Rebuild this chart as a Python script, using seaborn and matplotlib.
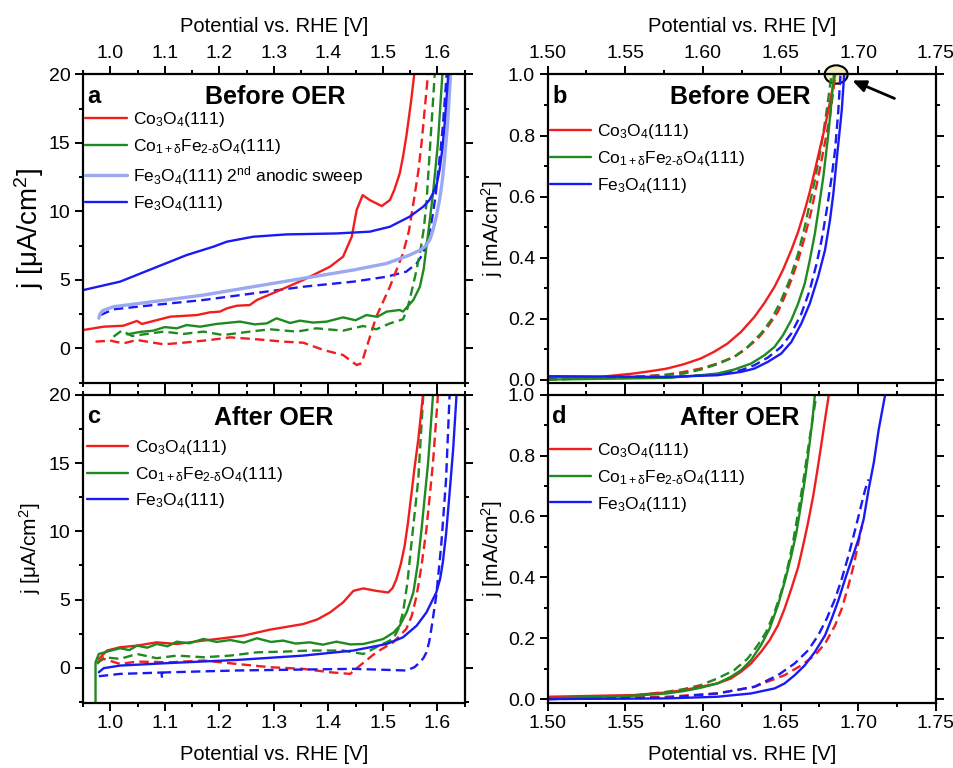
import matplotlib
matplotlib.use("Agg")
import matplotlib.pyplot as plt
from matplotlib.patches import Ellipse
from matplotlib.ticker import MultipleLocator, FormatStrFormatter
import seaborn as sns

# ---- panel a: before OER, low current region (uA/cm2) ----
a_co_x = [0.951, 0.988, 1.024, 1.049, 1.058, 1.110, 1.159, 1.183, 1.201, 1.214, 1.232, 1.256, 1.269,
          1.305, 1.354, 1.403, 1.427, 1.443, 1.452, 1.463, 1.476, 1.498, 1.513, 1.521, 1.531, 1.537,
          1.543, 1.548, 1.552, 1.559]
a_co_y = [1.34, 1.58, 1.65, 2.00, 1.78, 2.31, 2.43, 2.63, 2.68, 2.92, 3.11, 3.16, 3.53,
          4.14, 4.99, 5.96, 6.69, 8.15, 10.1, 11.19, 10.83, 10.39, 10.83, 11.56, 12.77, 13.99,
          15.45, 16.91, 18.1, 20.5]
a_co_dash_x = [0.973, 1.000, 1.024, 1.049, 1.098, 1.134, 1.183, 1.220, 1.269, 1.317, 1.354, 1.391,
               1.427, 1.452, 1.461, 1.488, 1.513, 1.537, 1.548, 1.556, 1.565, 1.571, 1.584]
a_co_dash_y = [0.49, 0.56, 0.36, 0.61, 0.29, 0.41, 0.61, 0.80, 0.66, 0.49, 0.41, -0.12,
               -0.49, -1.22, -1.09, 2.31, 4.50, 6.93, 8.6, 10.58, 12.9, 14.96, 20.5]
a_cofe_x = [1.031, 1.055, 1.079, 1.100, 1.122, 1.140, 1.165, 1.195, 1.238, 1.265, 1.287, 1.305, 1.330,
            1.348, 1.372, 1.397, 1.427, 1.450, 1.470, 1.490, 1.507, 1.531, 1.537, 1.556, 1.568, 1.575,
            1.580, 1.586, 1.592, 1.601, 1.610]
a_cofe_y = [1.02, 1.20, 1.29, 1.55, 1.46, 1.70, 1.58, 1.78, 1.95, 1.75, 1.82, 2.19, 1.85,
            2.02, 1.88, 1.95, 2.26, 2.05, 2.43, 2.30, 2.68, 2.80, 2.68, 3.53, 4.50, 5.8,
            7.42, 9.3, 11.3, 14.96, 20.5]
a_cofe_dash_x = [1.006, 1.021, 1.040, 1.067, 1.098, 1.134, 1.171, 1.207, 1.256, 1.293, 1.342, 1.378,
                 1.427, 1.464, 1.488, 1.513, 1.537, 1.545, 1.552, 1.560, 1.568, 1.575, 1.580, 1.589,
                 1.596]
a_cofe_dash_y = [0.85, 1.29, 0.90, 1.05, 1.22, 1.05, 1.22, 0.97, 1.22, 1.39, 1.22, 1.46,
                 1.29, 1.63, 1.39, 1.82, 2.12, 2.9, 4.01, 5.4, 6.93, 8.7, 10.58, 16.18, 20.5]
a_fe2_x = [0.979, 0.981, 0.986, 1.006, 1.079, 1.171, 1.262, 1.354, 1.446, 1.507, 1.549, 1.570,
           1.580, 1.587, 1.592, 1.598, 1.604, 1.609, 1.613, 1.619, 1.625]
a_fe2_y = [2.2, 2.5, 2.75, 3.04, 3.41, 3.89, 4.50, 5.11, 5.72, 6.20, 6.81, 7.2,
           7.54, 8.0, 8.64, 9.6, 10.83, 12.2, 13.75, 16.5, 20.5]
a_fe_x = [0.951, 1.018, 1.079, 1.140, 1.189, 1.214, 1.262, 1.323, 1.415, 1.476, 1.513, 1.549,
          1.574, 1.585, 1.592, 1.599, 1.604, 1.609, 1.613, 1.621]
a_fe_y = [4.26, 4.87, 5.84, 6.81, 7.42, 7.79, 8.15, 8.32, 8.39, 8.52, 8.88, 9.61,
          10.34, 10.8, 11.31, 12.0, 13.0, 14.5, 16.2, 20.5]
a_fe_dash_x = [0.982, 1.006, 1.079, 1.171, 1.262, 1.354, 1.446, 1.507, 1.543, 1.562, 1.572, 1.580,
               1.587, 1.592, 1.597, 1.601, 1.606, 1.610, 1.618]
a_fe_dash_y = [2.43, 2.85, 3.16, 3.53, 4.01, 4.50, 4.87, 5.23, 5.60, 6.20, 6.8, 7.66,
               8.7, 9.85, 11.2, 12.77, 14.5, 16.2, 20.5]

# ---- panel c: after OER, low current region (uA/cm2) ----
c_co_x = [0.979, 0.994, 1.018, 1.049, 1.085, 1.122, 1.171, 1.207, 1.244, 1.293, 1.354, 1.380, 1.403,
          1.427, 1.446, 1.464, 1.488, 1.510, 1.518, 1.525, 1.533, 1.540, 1.546, 1.552, 1.558, 1.565,
          1.575]
c_co_y = [0.66, 1.27, 1.51, 1.63, 1.87, 1.75, 2.00, 2.17, 2.36, 2.80, 3.21, 3.55, 4.06,
          4.79, 5.64, 5.82, 5.64, 5.52, 5.85, 6.50, 7.6, 8.93, 10.6, 12.58, 14.6, 16.7,
          20.5]
c_co_dash_x = [0.976, 0.988, 1.018, 1.049, 1.110, 1.171, 1.232, 1.293, 1.354, 1.403, 1.440, 1.458,
               1.488, 1.519, 1.543, 1.553, 1.562, 1.571, 1.580, 1.592, 1.602]
c_co_dash_y = [0.41, 0.66, 0.29, 0.46, 0.41, 0.54, 0.29, 0.05, -0.07, -0.32, -0.44, 0.17,
               1.14, 1.87, 2.85, 3.8, 5.28, 7.5, 10.15, 15.0, 20.5]
c_cofe_x = [0.973, 0.973, 0.979, 0.994, 1.018, 1.035, 1.049, 1.068, 1.085, 1.105, 1.122, 1.145, 1.171,
            1.195, 1.220, 1.245, 1.269, 1.295, 1.317, 1.340, 1.366, 1.390, 1.415, 1.440, 1.464, 1.485,
            1.501, 1.520, 1.531, 1.544, 1.556, 1.564, 1.571, 1.583, 1.593]
c_cofe_y = [-2.6, 0.41, 1.02, 1.19, 1.44, 1.30, 1.63, 1.48, 1.75, 1.58, 1.92, 1.80, 2.12,
            1.90, 2.04, 1.85, 2.17, 1.90, 2.00, 1.78, 1.87, 1.70, 1.92, 1.72, 1.75, 1.95,
            2.12, 2.6, 3.09, 4.1, 5.52, 7.6, 10.15, 15.0, 20.5]
c_cofe_dash_x = [0.976, 0.988, 1.018, 1.049, 1.085, 1.122, 1.171, 1.220, 1.269, 1.317, 1.366, 1.427,
                 1.464, 1.494, 1.519, 1.529, 1.537, 1.545, 1.552, 1.565, 1.575]
c_cofe_dash_y = [0.29, 0.78, 0.66, 1.02, 0.71, 0.90, 0.78, 0.90, 1.14, 1.19, 1.27, 1.27,
                 1.02, 1.63, 2.12, 2.9, 4.06, 6.2, 8.93, 13.8, 20.5]
c_fe_x = [0.979, 0.988, 1.018, 1.110, 1.232, 1.354, 1.446, 1.507, 1.537, 1.562, 1.580, 1.598,
          1.605, 1.610, 1.616, 1.622, 1.629, 1.636]
c_fe_y = [-0.32, -0.02, 0.17, 0.36, 0.58, 0.90, 1.27, 1.75, 2.24, 3.09, 4.06, 5.52,
          6.5, 7.71, 9.8, 12.58, 16.0, 20.5]
c_fe_dash_x = [0.979, 1.018, 1.094, 1.095, 1.096, 1.110, 1.232, 1.354, 1.446, 1.543, 1.558, 1.568,
               1.575, 1.580, 1.585, 1.589, 1.598, 1.607, 1.616, 1.623]
c_fe_dash_y = [-0.61, -0.44, -0.34, -0.75, -0.34, -0.32, -0.19, -0.12, -0.07, -0.19, 0.05, 0.41,
               0.75, 1.14, 1.9, 2.85, 5.28, 8.93, 13.8, 20.5]

# ---- panel b: before OER, OER region (mA/cm2) ----
b_co_x = [1.500, 1.5335, 1.5552, 1.5660, 1.5768, 1.5877, 1.5985, 1.6071, 1.6158, 1.6245, 1.6331,
          1.6396, 1.6461, 1.6515, 1.6569, 1.6613, 1.6656, 1.6688, 1.6721, 1.6753, 1.6786, 1.6818,
          1.6855]
b_co_y = [0.009, 0.0087, 0.0197, 0.0273, 0.036, 0.0503, 0.0689, 0.0907, 0.118, 0.156, 0.205,
          0.251, 0.304, 0.359, 0.424, 0.484, 0.555, 0.615, 0.686, 0.757, 0.828, 0.910,
          1.01]
b_co_dash_x = [1.500, 1.5552, 1.5768, 1.5877, 1.5985, 1.6093, 1.6201, 1.6266, 1.6353, 1.6418, 1.6483,
               1.6526, 1.6569, 1.6613, 1.6656, 1.6699, 1.6732, 1.6764, 1.6797, 1.6818, 1.6855]
b_co_dash_y = [0.000, 0.0087, 0.0164, 0.0251, 0.036, 0.0525, 0.0743, 0.0962, 0.134, 0.173, 0.222,
               0.271, 0.326, 0.391, 0.468, 0.555, 0.637, 0.719, 0.807, 0.861, 1.01]
b_cofe_x = [1.500, 1.5768, 1.5985, 1.6093, 1.6201, 1.6310, 1.6396, 1.6461, 1.6515, 1.6569, 1.6613,
            1.6656, 1.6688, 1.6721, 1.6747, 1.6775, 1.6807, 1.6829, 1.6845]
b_cofe_y = [0.000, 0.0055, 0.0142, 0.0197, 0.0328, 0.0525, 0.0798, 0.107, 0.145, 0.195, 0.249,
            0.315, 0.391, 0.479, 0.566, 0.664, 0.801, 0.916, 1.01]
b_cofe_dash_x = [1.500, 1.5660, 1.5877, 1.5985, 1.6093, 1.6201, 1.6288, 1.6374, 1.6439, 1.6504, 1.6558,
                 1.6613, 1.6656, 1.6688, 1.6721, 1.6753, 1.6775, 1.6797, 1.6831]
b_cofe_dash_y = [0.000, 0.0109, 0.0197, 0.0328, 0.0503, 0.0743, 0.107, 0.151, 0.195, 0.260, 0.326,
                 0.413, 0.501, 0.577, 0.654, 0.741, 0.807, 0.883, 1.01]
b_fe_x = [1.500, 1.5768, 1.6093, 1.6245, 1.6331, 1.6418, 1.6504, 1.6569, 1.6634, 1.6688, 1.6742,
          1.6786, 1.6818, 1.6840, 1.6861, 1.6883, 1.6894, 1.6911]
b_fe_y = [0.011, 0.0087, 0.0142, 0.0251, 0.036, 0.058, 0.0852, 0.123, 0.184, 0.249, 0.337,
          0.424, 0.522, 0.610, 0.719, 0.828, 0.883, 1.01]
b_fe_dash_x = [1.500, 1.5768, 1.6093, 1.6245, 1.6331, 1.6418, 1.6504, 1.6569, 1.6634, 1.6688, 1.6732,
               1.6764, 1.6797, 1.6829, 1.6851, 1.6872, 1.6887]
b_fe_dash_y = [0.0033, 0.0066, 0.0175, 0.0306, 0.047, 0.0721, 0.107, 0.151, 0.216, 0.293, 0.380,
               0.457, 0.555, 0.664, 0.752, 0.883, 1.01]

# ---- panel d: after OER, OER region (mA/cm2) ----
d_co_x = [1.500, 1.5552, 1.5768, 1.5877, 1.5985, 1.6093, 1.6180, 1.6245, 1.6310, 1.6374, 1.6429,
          1.6483, 1.6526, 1.6569, 1.6613, 1.6645, 1.6677, 1.6710, 1.6738, 1.6764, 1.6786, 1.6814]
d_co_y = [0.0076, 0.0131, 0.0218, 0.0294, 0.0403, 0.0513, 0.0676, 0.0894, 0.117, 0.155, 0.193,
          0.242, 0.297, 0.362, 0.433, 0.504, 0.580, 0.667, 0.755, 0.842, 0.918, 1.01]
d_co_dash_x = [1.500, 1.5768, 1.6093, 1.6331, 1.6526, 1.6634, 1.6721, 1.6786, 1.6851, 1.6894, 1.6937,
               1.6970, 1.7002, 1.7024]
d_co_dash_y = [0.000, 0.0076, 0.0185, 0.0403, 0.0785, 0.111, 0.144, 0.182, 0.242, 0.297, 0.373,
               0.438, 0.515, 0.569]
d_cofe_x = [1.500, 1.5552, 1.5768, 1.5877, 1.5985, 1.6093, 1.6180, 1.6245, 1.6310, 1.6374, 1.6429,
            1.6483, 1.6526, 1.6569, 1.6602, 1.6634, 1.6660, 1.6682, 1.6703, 1.6723]
d_cofe_y = [0.0022, 0.0109, 0.0185, 0.0262, 0.0371, 0.0513, 0.0731, 0.0949, 0.128, 0.177, 0.231,
            0.308, 0.384, 0.471, 0.547, 0.646, 0.733, 0.820, 0.907, 1.01]
d_cofe_dash_x = [1.500, 1.5552, 1.5768, 1.5877, 1.5985, 1.6093, 1.6201, 1.6288, 1.6353, 1.6407, 1.6461,
                 1.6504, 1.6548, 1.6580, 1.6613, 1.6645, 1.6673, 1.6699, 1.6734]
d_cofe_dash_y = [0.000, 0.0109, 0.024, 0.0327, 0.0458, 0.0676, 0.0949, 0.133, 0.177, 0.220, 0.286,
                 0.351, 0.438, 0.515, 0.613, 0.711, 0.809, 0.896, 1.01]
d_fe_x = [1.500, 1.5768, 1.6093, 1.6310, 1.6461, 1.6526, 1.6591, 1.6656, 1.6721, 1.6786, 1.6829,
          1.6872, 1.6916, 1.6959, 1.7002, 1.7035, 1.7067, 1.7100, 1.7132, 1.7177]
d_fe_y = [0.000, 0.0022, 0.0076, 0.0185, 0.0349, 0.0513, 0.0785, 0.111, 0.155, 0.209, 0.264,
          0.324, 0.395, 0.460, 0.526, 0.591, 0.689, 0.776, 0.886, 1.01]
d_fe_dash_x = [1.500, 1.5768, 1.6093, 1.6331, 1.6483, 1.6591, 1.6677, 1.6742, 1.6797, 1.6851, 1.6894,
               1.6937, 1.6981, 1.7013, 1.7045, 1.7067]
d_fe_dash_y = [0.000, 0.0044, 0.0185, 0.0403, 0.0785, 0.117, 0.160, 0.209, 0.264, 0.329, 0.395,
               0.471, 0.558, 0.624, 0.689, 0.722]

lbl_co = r"Co$_3$O$_4$(111)"
lbl_cofe = r"Co$_{1+\delta}$Fe$_{2\text{-}\delta}$O$_4$(111)"
lbl_fe2 = r"Fe$_3$O$_4$(111) 2$^{\rm nd}$ anodic sweep"
lbl_fe = r"Fe$_3$O$_4$(111)"

RED = "#f21d1d"
GREEN = "#1f8a1f"
LIGHT = "#9aa9f2"
BLUE = "#1a1af5"

sns.set_style("ticks")
plt.rcParams["font.family"] = ["Liberation Sans", "DejaVu Sans"]
plt.rcParams["mathtext.fontset"] = "custom"
plt.rcParams["mathtext.rm"] = "Liberation Sans"
plt.rcParams["mathtext.it"] = "Liberation Sans:italic"
plt.rcParams["mathtext.default"] = "regular"
plt.rcParams["text.color"] = "black"
plt.rcParams["axes.labelcolor"] = "black"
plt.rcParams["xtick.color"] = "black"
plt.rcParams["ytick.color"] = "black"

fig = plt.figure(figsize=(9.54, 7.68), dpi=100)
ax_a = fig.add_axes([0.087, 0.501, 0.400, 0.402])
ax_b = fig.add_axes([0.574, 0.501, 0.407, 0.402])
ax_c = fig.add_axes([0.087, 0.085, 0.400, 0.401])
ax_d = fig.add_axes([0.574, 0.085, 0.407, 0.401])

DASH = (0, (4, 2.2))


def curve(ax, x, y, color, label=None, dashed=False, lw=1.7):
    sns.lineplot(x=x, y=y, ax=ax, color=color, lw=lw, sort=False, estimator=None,
                 label=label, linestyle=DASH if dashed else "-", legend=False)


curve(ax_a, a_fe_dash_x, a_fe_dash_y, BLUE, dashed=True)
curve(ax_a, a_co_dash_x, a_co_dash_y, RED, dashed=True)
curve(ax_a, a_cofe_dash_x, a_cofe_dash_y, GREEN, dashed=True)
curve(ax_a, a_co_x, a_co_y, RED, lbl_co)
curve(ax_a, a_cofe_x, a_cofe_y, GREEN, lbl_cofe)
curve(ax_a, a_fe2_x, a_fe2_y, LIGHT, lbl_fe2, lw=2.4)
curve(ax_a, a_fe_x, a_fe_y, BLUE, lbl_fe)

for ax, pre in ((ax_c, "c"), (ax_b, "b"), (ax_d, "d")):
    g = globals()
    curve(ax, g[pre + "_co_dash_x"], g[pre + "_co_dash_y"], RED, dashed=True)
    curve(ax, g[pre + "_cofe_dash_x"], g[pre + "_cofe_dash_y"], GREEN, dashed=True)
    curve(ax, g[pre + "_fe_dash_x"], g[pre + "_fe_dash_y"], BLUE, dashed=True)
    curve(ax, g[pre + "_co_x"], g[pre + "_co_y"], RED, lbl_co)
    curve(ax, g[pre + "_cofe_x"], g[pre + "_cofe_y"], GREEN, lbl_cofe)
    curve(ax, g[pre + "_fe_x"], g[pre + "_fe_y"], BLUE, lbl_fe)

for ax in (ax_a, ax_c):
    ax.set_xlim(0.95, 1.65)
    ax.set_ylim(-2.55, 20)
    ax.xaxis.set_major_locator(MultipleLocator(0.1))
    ax.xaxis.set_minor_locator(MultipleLocator(0.05))
    ax.yaxis.set_major_locator(MultipleLocator(5))
    ax.yaxis.set_minor_locator(MultipleLocator(2.5))
    ax.xaxis.set_major_formatter(FormatStrFormatter("%.1f"))
for ax in (ax_b, ax_d):
    ax.set_xlim(1.50, 1.75)
    ax.set_ylim(-0.012, 1.0)
    ax.xaxis.set_major_locator(MultipleLocator(0.05))
    ax.xaxis.set_minor_locator(MultipleLocator(0.025))
    ax.yaxis.set_major_locator(MultipleLocator(0.2))
    ax.yaxis.set_minor_locator(MultipleLocator(0.1))
    ax.yaxis.set_major_formatter(FormatStrFormatter("%.1f"))
    ax.xaxis.set_major_formatter(FormatStrFormatter("%.2f"))

for ax in (ax_a, ax_b, ax_c, ax_d):
    for s in ax.spines.values():
        s.set_linewidth(1.6)
        s.set_color("black")
    ax.tick_params(which="both", direction="out", top=True, right=True, width=1.4,
                   labelsize=14, colors="black")
    ax.tick_params(which="major", length=6, pad=3)
    ax.tick_params(which="minor", length=3)
    ax.set_xlabel("")
    ax.set_ylabel("")

for ax in (ax_a, ax_b):
    ax.tick_params(labeltop=True, labelbottom=False)
    ax.xaxis.set_label_position("top")
    ax.set_xlabel("Potential vs. RHE [V]", fontsize=14.5, labelpad=9)
for ax in (ax_c, ax_d):
    ax.set_xlabel("Potential vs. RHE [V]", fontsize=14.5, labelpad=9)

ax_a.set_ylabel(r"j [$\mu$A/cm$^2$]", fontsize=20, labelpad=2)
ax_c.set_ylabel(r"j [$\mu$A/cm$^2$]", fontsize=15, labelpad=4)
ax_b.set_ylabel(r"j [mA/cm$^2$]", fontsize=15, labelpad=2)
ax_d.set_ylabel(r"j [mA/cm$^2$]", fontsize=15, labelpad=2)

for ax, letter, title, tx in ((ax_a, "a", "Before OER", 0.503), (ax_b, "b", "Before OER", 0.495),
                              (ax_c, "c", "After OER", 0.5), (ax_d, "d", "After OER", 0.495)):
    ax.text(0.012, 0.93, letter, transform=ax.transAxes, fontsize=17, fontweight="bold",
            ha="left", va="center")
    ax.text(tx, 0.926, title, transform=ax.transAxes, fontsize=18, fontweight="bold",
            ha="center", va="center")

leg_kw = dict(loc="upper left", frameon=False, fontsize=12.5, handlelength=2.4,
              handletextpad=0.35, borderpad=0, borderaxespad=0, labelspacing=0.45)
ax_a.legend(bbox_to_anchor=(0.005, 0.885), **leg_kw)
ax_c.legend(bbox_to_anchor=(0.01, 0.86), **leg_kw)
ax_b.legend(bbox_to_anchor=(0.005, 0.845), **leg_kw)
ax_d.legend(bbox_to_anchor=(0.005, 0.85), **leg_kw)

ell = Ellipse((1.6858, 1.0), width=0.0148, height=0.06, facecolor="#f2f0bf",
              edgecolor="black", lw=1.5, clip_on=False, zorder=1.5)
ax_b.add_patch(ell)
for ln in ax_b.get_lines():
    ln.set_zorder(2)
ax_b.annotate("", xy=(1.6945, 0.984), xytext=(1.725, 0.918),
              arrowprops=dict(arrowstyle="-|>,head_length=0.8,head_width=0.35",
                              color="black", lw=2), annotation_clip=False)

fig.savefig("out.png", dpi=100)
